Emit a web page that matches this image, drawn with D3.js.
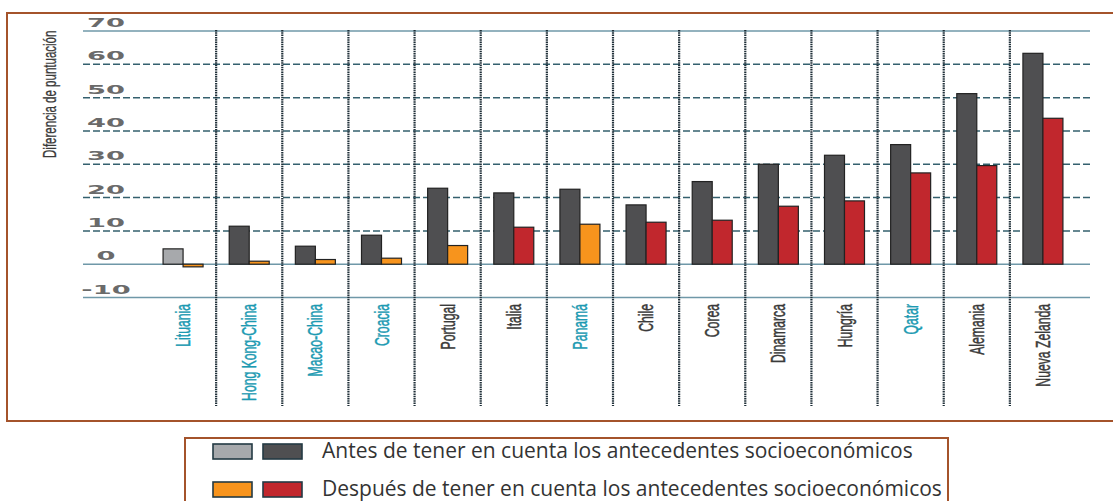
<!DOCTYPE html>
<html><head><meta charset="utf-8">
<script src="https://cdn.jsdelivr.net/npm/d3@7"></script>
<style>
html,body{margin:0;padding:0;background:#fff;}
svg{display:block;}
</style></head>
<body>
<svg id="chart" width="1113" height="501"></svg>
<script>
const categories = ["Lituania","Hong Kong-China","Macao-China","Croacia","Portugal","Italia","Panamá","Chile","Corea","Dinamarca","Hungría","Qatar","Alemania","Nueva Zelanda"];
const partner = [true,true,true,true,false,false,true,false,false,false,false,true,false,false];
const before = [4.6,11.4,5.4,8.7,22.8,21.4,22.5,17.8,24.8,30.0,32.7,35.9,51.2,63.3];
const after = [-0.8,0.9,1.4,1.8,5.6,11.1,12.0,12.6,13.2,17.4,19.0,27.4,29.6,43.8];
const beforeSig = [false,true,true,true,true,true,true,true,true,true,true,true,true,true];
const afterSig = [false,false,false,false,false,true,false,true,true,true,true,true,true,true];
const yTicks = [-10,0,10,20,30,40,50,60,70];
const yTitle = "Diferencia de puntuación";
const legendLabels = ["Antes de tener en cuenta los antecedentes socioeconómicos","Después de tener en cuenta los antecedentes socioeconómicos"];

const C = {grayL:"#a7a9ac", grayD:"#4f4f51", orange:"#f7941d", red:"#c1272d", brown:"#a4532b", teal:"#1c9ab2", text:"#3a3a3a"};
const svg = d3.select("#chart");

// frame
svg.append("rect").attr("x",7).attr("y",13).attr("width",1130).attr("height",408)
  .attr("fill","none").attr("stroke",C.brown).attr("stroke-width",2);

const x = d3.scaleBand().domain(categories).range([150,1076]);
const sub = d3.scaleBand().domain(["b","a"]).range([0,40]);
const y = d3.scaleLinear().domain([-10,70]).range([297.5,31]);

// horizontal gridlines
const g = svg.append("g");
g.selectAll("line.h").data(yTicks).join("line")
  .attr("x1",83).attr("x2",1090)
  .attr("y1",d=>y(d)).attr("y2",d=>y(d))
  .attr("stroke",d=>(d===70||d===0||d===-10)?"#6f98a8":"#34606e")
  .attr("stroke-width",1.5)
  .attr("stroke-dasharray",d=>(d===70||d===0||d===-10)?null:"7,3");

// vertical separators
g.selectAll("line.v").data(categories.slice(1)).join("line")
  .attr("x1",d=>x(d)).attr("x2",d=>x(d))
  .attr("y1",30).attr("y2",406)
  .attr("stroke","#1f2f38").attr("stroke-width",2.2).attr("stroke-dasharray","1.5,0.8");

// y tick labels
g.selectAll("text.yt").data(yTicks).join("text")
  .attr("transform",d=>`translate(106,${y(d)-4}) scale(2.1,1)`)
  .attr("text-anchor","middle")
  .attr("font-family","DejaVu Sans").attr("font-weight","bold").attr("font-size",13)
  .attr("fill","#6a6a6a").text(d=>d===-10?"-10":d);

// y title
svg.append("text").attr("transform","translate(56,158) rotate(-90) scale(0.64,1)")
  .attr("font-family","'Liberation Sans',Arial,sans-serif").attr("font-size",18)
  .attr("fill",C.text).attr("stroke",C.text).attr("stroke-width",0.3).text(yTitle);

// bars
const off = (x.bandwidth()-40)/2;
const bars = svg.append("g");
categories.forEach((c,i)=>{
  const vals = [{k:"b",v:before[i],fill:beforeSig[i]?C.grayD:C.grayL},{k:"a",v:after[i],fill:afterSig[i]?C.red:C.orange}];
  bars.selectAll(null).data(vals).join("rect")
    .attr("x",d=>x(c)+off+sub(d.k))
    .attr("width",sub.bandwidth())
    .attr("y",d=>y(Math.max(0,d.v)))
    .attr("height",d=>Math.abs(y(d.v)-y(0)))
    .attr("fill",d=>d.fill).attr("stroke","#222").attr("stroke-width",1.2);
});

// category labels
svg.append("g").selectAll("text").data(categories).join("text")
  .attr("transform",d=>`translate(${x(d)+x.bandwidth()/2+7},304) rotate(-90) scale(0.61,1)`)
  .attr("text-anchor","end")
  .attr("font-family","'Liberation Sans',Arial,sans-serif").attr("font-size",20)
  .attr("fill",(d,i)=>partner[i]?C.teal:C.text)
  .attr("stroke",(d,i)=>partner[i]?C.teal:C.text).attr("stroke-width",0.5)
  .text(d=>d);

// legend
const lg = svg.append("g");
lg.append("rect").attr("x",185).attr("y",438).attr("width",763).attr("height",80)
  .attr("fill","#fff").attr("stroke",C.brown).attr("stroke-width",2);
const rows = [{fills:[C.grayL,C.grayD],label:legendLabels[0],yy:444},{fills:[C.orange,C.red],label:legendLabels[1],yy:482}];
rows.forEach(r=>{
  r.fills.forEach((f,j)=>{
    lg.append("rect").attr("x",213+j*50).attr("y",r.yy).attr("width",39).attr("height",15)
      .attr("fill",f).attr("stroke","#233a44").attr("stroke-width",1.6);
  });
  lg.append("text").attr("x",322).attr("y",r.yy+14)
    .attr("font-family","'Open Sans',sans-serif").attr("font-size",21)
    .attr("fill","#333").text(r.label);
});
</script>
</body></html>
